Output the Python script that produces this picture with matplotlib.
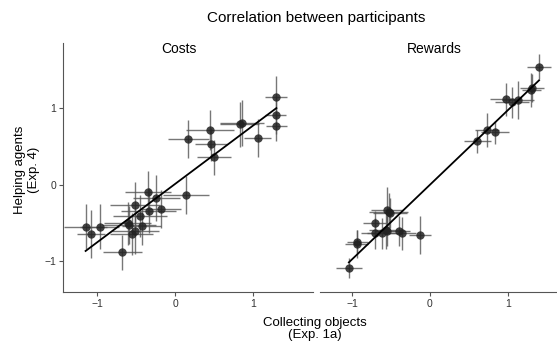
import numpy as np
import matplotlib
matplotlib.use("Agg")
import matplotlib.pyplot as plt

plt.rcParams['font.family'] = ['Liberation Sans', 'DejaVu Sans']

# Costs panel
costs_x = [-1.15, -1.08, -0.97, -0.68, -0.61, -0.59, -0.52, -0.56, -0.51, -0.45, -0.43,
           -0.35, -0.34, -0.24, -0.18, 0.14, 0.17, 0.45, 0.46, 0.50, 0.83, 0.86,
           1.06, 1.29, 1.29, 1.30]
costs_y = [-0.55, -0.65, -0.55, -0.89, -0.51, -0.53, -0.27, -0.65, -0.61, -0.41, -0.54,
           -0.10, -0.34, -0.18, -0.32, -0.14, 0.60, 0.72, 0.53, 0.36, 0.79, 0.81,
           0.61, 1.15, 0.91, 0.77]
costs_xerr = [0.28, 0.18, 0.25, 0.25, 0.30, 0.35, 0.32, 0.28, 0.30, 0.35, 0.25,
              0.30, 0.35, 0.30, 0.25, 0.30, 0.26, 0.31, 0.20, 0.22, 0.25, 0.28,
              0.17, 0.14, 0.13, 0.13]
costs_yerr = [0.30, 0.32, 0.30, 0.23, 0.28, 0.25, 0.30, 0.28, 0.30, 0.28, 0.25,
              0.28, 0.30, 0.30, 0.25, 0.25, 0.25, 0.26, 0.22, 0.23, 0.30, 0.30,
              0.25, 0.28, 0.25, 0.20]

# Rewards panel
rewards_x = [-1.04, -0.94, -0.93, -0.71, -0.70, -0.61, -0.56, -0.55, -0.53, -0.51,
             -0.55, -0.40, -0.36, -0.13, 0.61, 0.73, 0.84, 0.97, 1.05, 1.13,
             1.30, 1.31, 1.40]
rewards_y = [-1.10, -0.78, -0.75, -0.50, -0.64, -0.64, -0.60, -0.33, -0.36, -0.37,
             -0.61, -0.61, -0.64, -0.66, 0.57, 0.72, 0.69, 1.12, 1.08, 1.11,
             1.24, 1.27, 1.55]
rewards_xerr = [0.17, 0.15, 0.14, 0.15, 0.18, 0.20, 0.22, 0.20, 0.25, 0.22,
                0.15, 0.15, 0.18, 0.14, 0.17, 0.15, 0.18, 0.20, 0.22, 0.20,
                0.12, 0.15, 0.15]
rewards_yerr = [0.13, 0.18, 0.15, 0.15, 0.20, 0.20, 0.25, 0.30, 0.25, 0.20,
                0.20, 0.20, 0.22, 0.25, 0.15, 0.22, 0.15, 0.22, 0.20, 0.25,
                0.22, 0.18, 0.16]

panels = [("Costs", costs_x, costs_y, costs_xerr, costs_yerr, (-1.44, 1.77), 179),
          ("Rewards", rewards_x, rewards_y, rewards_xerr, rewards_yerr, (-1.41, 1.63), 434)]

fig = plt.figure(figsize=(5.57, 3.41), dpi=100)
W, H = 557, 341
ax_left = fig.add_axes([63 / W, 1 - 292 / H, 250 / W, 249 / H])
ax_right = fig.add_axes([320 / W, 1 - 292 / H, 237 / W, 249 / H])
ylim = (-1.41, 1.86)

for ax, (name, x, y, xe, ye, xlim, title_x) in zip([ax_left, ax_right], panels):
    x = np.array(x)
    y = np.array(y)
    ax.errorbar(x, y, xerr=xe, yerr=ye, fmt='none', ecolor='#555555',
                elinewidth=1.0, alpha=0.8, zorder=1)
    ax.plot(x, y, 'o', color='#222222', alpha=0.85, ms=6, mec='none', zorder=2)
    # least-squares fit line over the data range
    slope, icpt = np.polyfit(x, y, 1)
    xs = np.array([x.min(), x.max()])
    ax.plot(xs, slope * xs + icpt, color='black', lw=1.3, zorder=3)
    ax.set_xlim(*xlim)
    ax.set_ylim(*ylim)
    ax.set_xticks([-1, 0, 1])
    ax.set_xticklabels(['\u22121', '0', '1'])
    fig.text(title_x / W, 1 - 49 / H, name, ha='center', va='center', fontsize=10)
    for s in ['top', 'right']:
        ax.spines[s].set_visible(False)
    ax.spines['bottom'].set_color('#555555')
    ax.spines['left'].set_color('#555555')
    ax.tick_params(colors='#555555', labelcolor='#333333', labelsize=7.5,
                   length=3, width=0.8, pad=2)

ax_left.set_yticks([-1, 0, 1])
ax_left.set_yticklabels(['\u22121', '0', '1'])
ax_right.spines['left'].set_visible(False)
ax_right.set_yticks([])

fig.text(316 / W, 1 - 18 / H, "Correlation between participants",
         ha='center', va='center', fontsize=11)
fig.text(315 / W, 1 - 329 / H, "Collecting objects\n(Exp. 1a)",
         ha='center', va='center', fontsize=9.5, linespacing=1.1)
fig.text(27 / W, 1 - 170 / H, "Helping agents\n(Exp. 4)", rotation=90,
         ha='center', va='center', fontsize=9.5, linespacing=1.2)

fig.savefig("out.png", dpi=100)
